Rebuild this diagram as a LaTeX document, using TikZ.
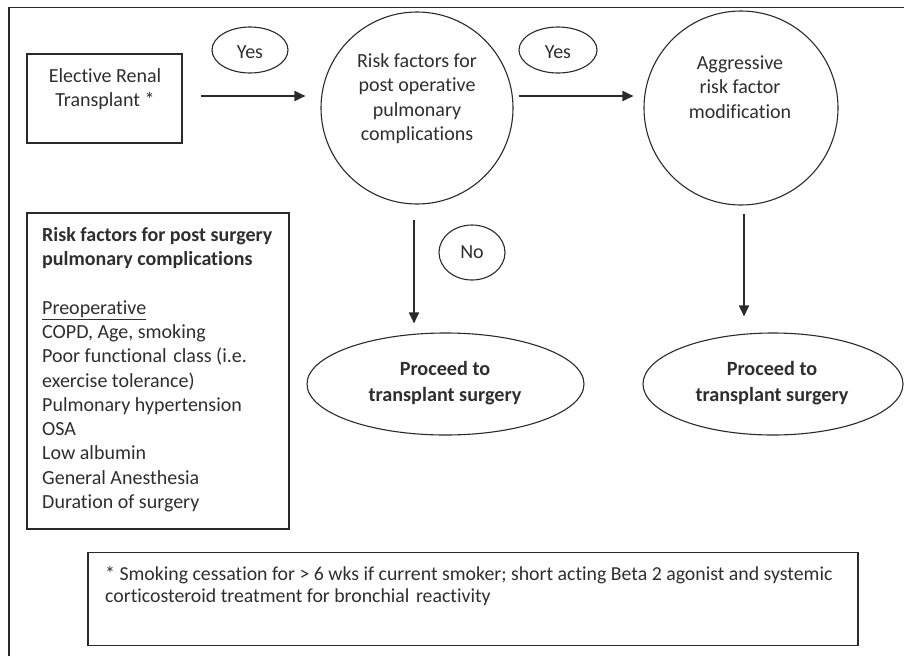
\documentclass[tikz,border=0pt]{standalone}
\usepackage{fontspec}
\setmainfont{Carlito}[Ligatures=NoCommon]
\usetikzlibrary{shapes.geometric,arrows.meta}
\definecolor{ink}{HTML}{2A2A2A}
\definecolor{txt}{HTML}{2E2E2E}
\tikzset{
  frameline/.style={draw=ink, line width=1.3pt},
  shapebox/.style={draw=ink, line width=1.2pt, rectangle, inner sep=0pt},
  bigcircle/.style={draw=ink, line width=1.1pt, circle, minimum size=#1, inner sep=0pt},
  oval/.style={draw=ink, line width=1.1pt, ellipse, inner sep=0pt},
  flow/.style={draw=ink, line width=1.8pt, -{Triangle[length=11pt,width=10pt]}},
  label/.style={text=txt, inner sep=0pt, font=\fontsize{20}{24.5}\selectfont},
  boldlabel/.style={text=txt, inner sep=0pt, font=\fontsize{20.2}{26}\selectfont\bfseries},
}
\begin{document}
\begin{tikzpicture}[x=1pt,y=-1pt]
\useasboundingbox (0,0) rectangle (904,656);
% outer frame (left and top only)
\coordinate (fbl) at (9,656);
\coordinate (ftr) at (904,7.5);
\draw[frameline] (fbl) |- (ftr);

% shapes
\node[shapebox, minimum width=155pt, minimum height=89pt] (elective) at (104.5,98.5) {};
\node[label, anchor=north, align=center] (electivetxt) at (105,67) {\rule{0pt}{15pt}Elective Renal\\Transplant *};

\node[oval, minimum width=76pt, minimum height=46pt] (yes1) at (250,50) {};
\node[label, anchor=base] (yes1txt) at (250,58) {Yes};

\node[bigcircle=192pt] (risk) at (417,108) {};
\node[label, anchor=north, align=center] (risktxt) at (417,52) {\rule{0pt}{15pt}Risk factors for\\post operative\\pulmonary\\complications};

\node[oval, minimum width=78pt, minimum height=46pt] (yes2) at (558,50) {};
\node[label, anchor=base] (yes2txt) at (558,58) {Yes};

\node[bigcircle=194pt] (agg) at (741,108) {};
\node[label, anchor=north, align=center] (aggtxt) at (740,54) {\rule{0pt}{15pt}Aggressive\\risk factor\\modification};

\node[oval, minimum width=66pt, minimum height=55pt] (no) at (472,252.5) {};
\node[label, anchor=base] (notxt) at (472,258) {No};

\node[oval, minimum width=277pt, minimum height=102pt] (proc1) at (445.5,384) {};
\node[boldlabel, anchor=north, align=center] (proc1txt) at (445,360) {\rule{0pt}{15pt}Proceed to\\transplant surgery};

\node[oval, minimum width=260pt, minimum height=102pt] (proc2) at (773,384) {};
\node[boldlabel, anchor=north, align=center] (proc2txt) at (772,360) {\rule{0pt}{15pt}Proceed to\\transplant surgery};

\node[shapebox, minimum width=262pt, minimum height=316pt] (riskbox) at (158,371) {};
\node[label, anchor=north west, align=left, font=\fontsize{20}{24.3}\selectfont] (risklist) at (42,226)
  {\rule{0pt}{15pt}\textbf{Risk factors for post surgery}\\
   \textbf{pulmonary complications}\\[24.3pt]
   \underline{Preoperative}\\
   COPD, Age, smoking\\
   Poor functional\,\,class (i.e.\\
   exercise tolerance)\\
   Pulmonary hypertension\\
   OSA\\
   Low albumin\\
   General Anesthesia\\
   Duration of surgery};

\node[shapebox, minimum width=770pt, minimum height=93pt] (note) at (473,599) {};
\node[label, anchor=north west, align=left, font=\fontsize{19.8}{22}\selectfont] (notetxt) at (105,565)
  {\rule{0pt}{15pt}* Smoking cessation for > 6 wks if current smoker; short acting Beta 2 agonist and systemic\\
   corticosteroid treatment for bronchial\,\,reactivity};

% connectors
\draw[flow, shorten <=18pt, shorten >=15pt] ([yshift=2.5pt]elective.east) -- ([yshift=2.5pt]elective.east -| risk.west);
\draw[flow, shorten <=5pt, shorten >=10pt] ([yshift=12pt]risk.east) -- ([yshift=12pt]risk.east -| agg.west);
\draw[flow, shorten <=15pt, shorten >=9pt] ([xshift=-3pt]risk.south) -- ([xshift=-3pt]risk.south |- proc1.north);
\draw[flow, shorten <=8pt, shorten >=16pt] ([xshift=3pt]agg.south) -- ([xshift=3pt]agg.south |- proc2.north);
\end{tikzpicture}
\end{document}
